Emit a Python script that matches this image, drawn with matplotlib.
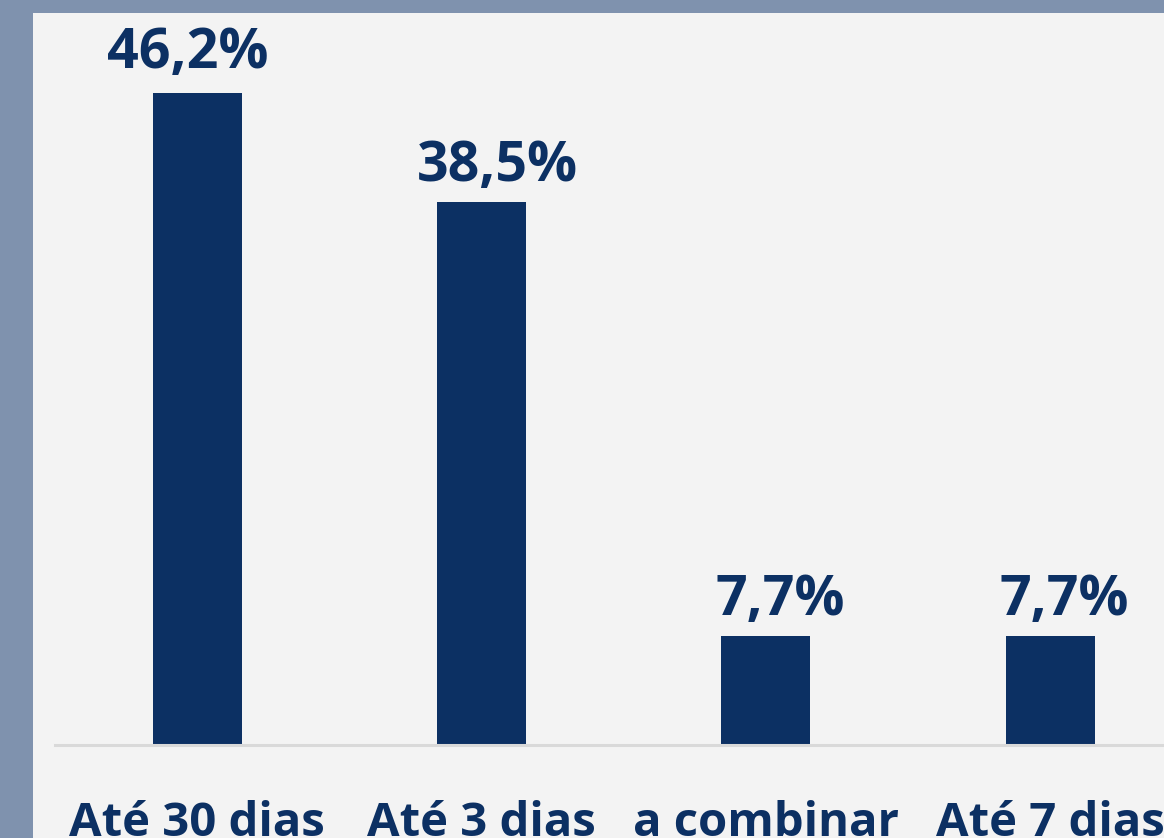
import matplotlib
matplotlib.use("Agg")
import matplotlib.pyplot as plt
from matplotlib.patches import Rectangle

# prazo de entrega - respostas (%)
categorias = ["Até 30 dias", "Até 3 dias", "a combinar", "Até 7 dias"]
valores = [46.2, 38.5, 7.7, 7.7]
rotulos = ["46,2%", "38,5%", "7,7%", "7,7%"]

azul = "#0c3063"
borda = "#7f92ae"
fundo = "#f3f3f3"

W, H = 1164, 838
fig = plt.figure(figsize=(W / 100, H / 100), dpi=100, facecolor=borda)

### painel claro por tras do grafico
fig.patches.append(Rectangle((33 / W, 0), 1 - 33 / W, (H - 13) / H,
                             transform=fig.transFigure, facecolor=fundo,
                             edgecolor="none", zorder=-10))

# eixo: base em y=744.5 px, topo em 13 px
ax = fig.add_axes([55 / W, (H - 744.5) / H, 1 - 55 / W, (744.5 - 13) / H])
ax.set_facecolor("none")

x = list(range(len(categorias)))
ax.bar(x, valores, width=0.313, color=azul, zorder=1)

# pequenos deslocamentos dos rotulos (pontos), como no original
desloc_x = [-7, 11.5, 10, 10]
desloc_y = [18, 15, 15, 15]
for xi, v, r, dx, dy in zip(x, valores, rotulos, desloc_x, desloc_y):
    ax.annotate(r, (xi, v), xytext=(dx, dy), textcoords="offset points",
                ha="center", va="baseline", fontsize=40, fontweight="bold",
                fontfamily="Open Sans", color=azul)

ax.set_xlim(-0.5, 3.4)
ax.set_ylim(0, 51.9)
ax.set_xticks(x)
ax.set_xticklabels(categorias, fontsize=34, fontweight="bold",
                   fontfamily="Open Sans", color=azul)
ax.tick_params(axis="x", length=0, pad=40)
ax.set_yticks([])

for s in ["top", "left", "right"]:
    ax.spines[s].set_visible(False)
ax.spines["bottom"].set_color("#d9d9d9")
ax.spines["bottom"].set_linewidth(2.2)

fig.savefig("out.png", dpi=100, facecolor=borda)
